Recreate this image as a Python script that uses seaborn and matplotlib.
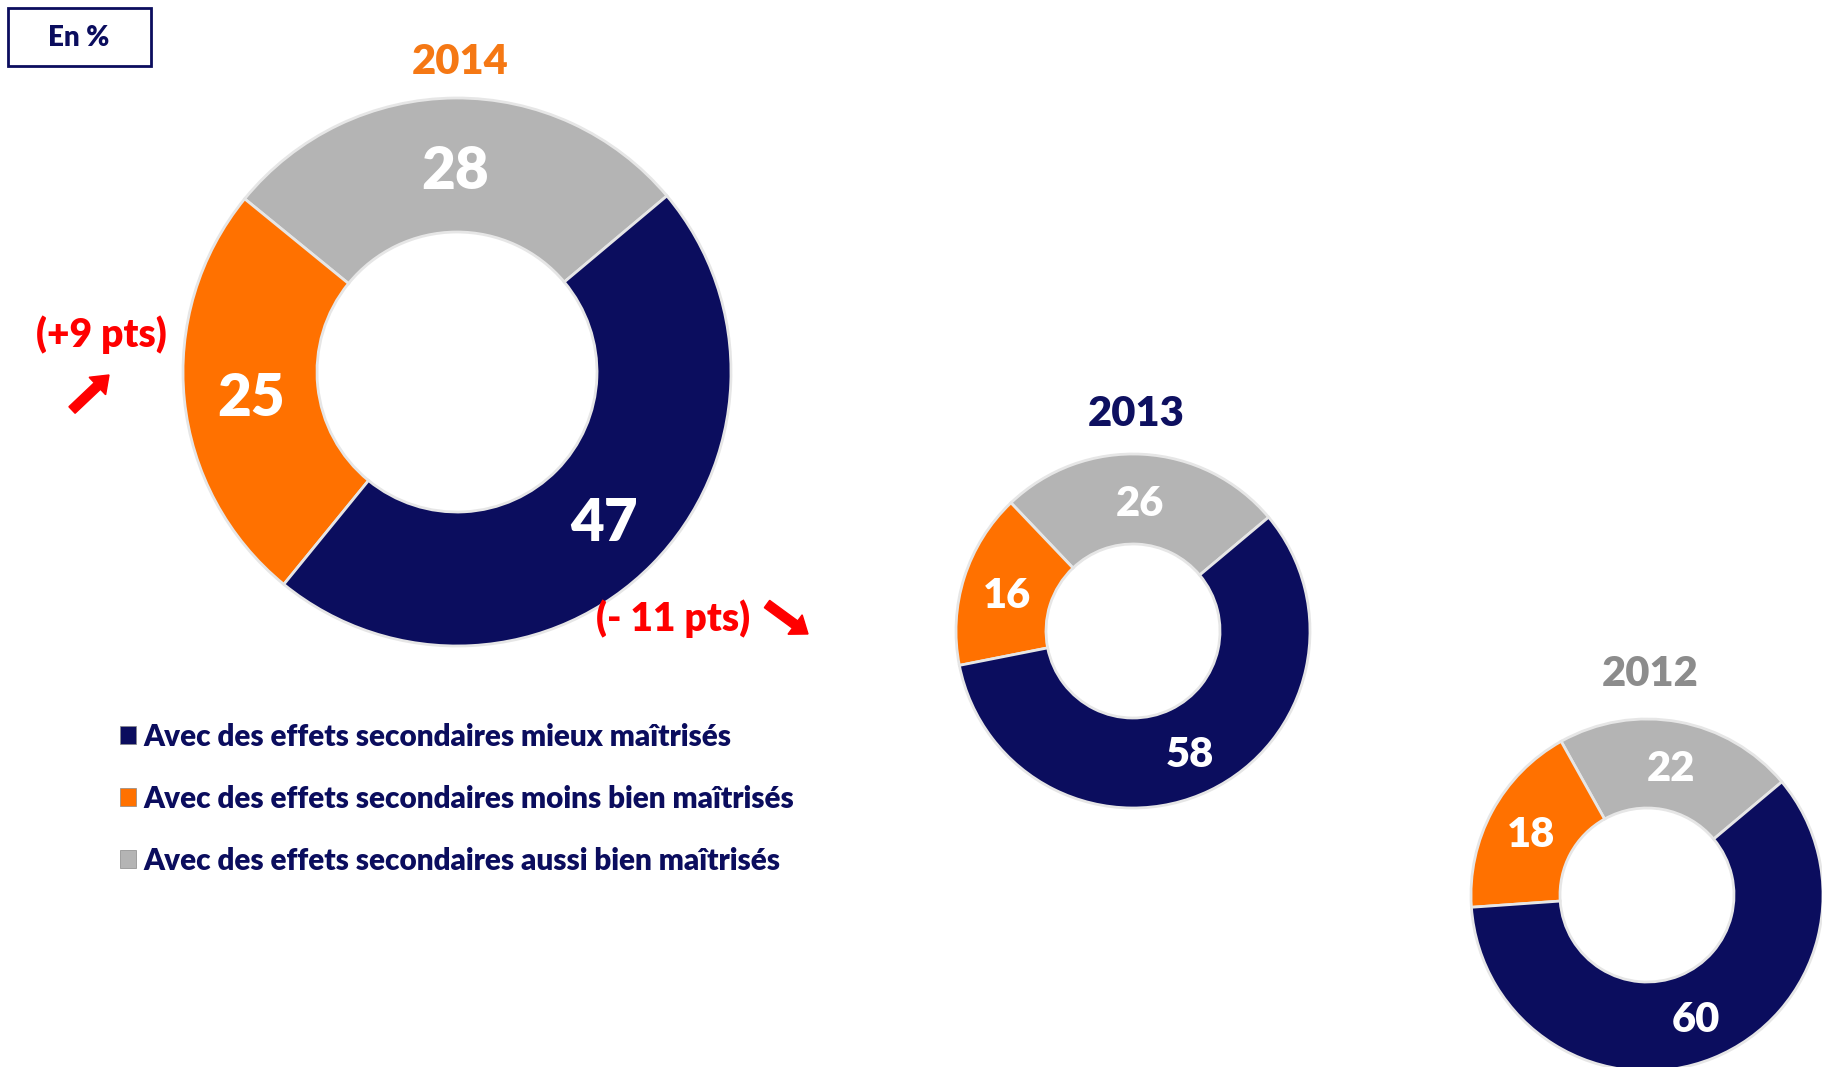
import matplotlib
matplotlib.use('Agg')
import matplotlib.pyplot as plt
import seaborn as sns

# data
years = ["2014", "2013", "2012"]
categories = ["Avec des effets secondaires mieux maîtrisés",
              "Avec des effets secondaires moins bien maîtrisés",
              "Avec des effets secondaires aussi bien maîtrisés"]
mieux = [47, 58, 60]
moins = [25, 16, 18]
aussi = [28, 26, 22]
evolutions = ["(+9 pts)", "(- 11 pts)"]

NAVY = "#0b0d5e"
ORANGE = "#ff7100"
GRAY = "#b4b4b4"
RED = "#ff0000"
colors = [NAVY, ORANGE, GRAY]
title_colors = ["#f57814", "#0e1060", "#8c8c8c"]

sns.set_theme(style="white")
plt.rcParams['font.family'] = ['Lato', 'DejaVu Sans']
WEIGHT = "heavy"

W, H = 1822, 1067
fig = plt.figure(figsize=(W / 100, H / 100), dpi=100)
ax = fig.add_axes([0, 0, 1, 1])

# layout in pixels (y measured from top of picture)
centers = [(457, 372), (1133, 631), (1647, 895)]
outer = [274, 177, 176]
inner = [140, 87, 87]
label_size = [42, 30, 30]
label_drop = [6, 5, 3]
title_y = [62, 414, 674]

for i, year in enumerate(years):
    cx, cy = centers[i]
    R, r = outer[i], inner[i]
    vals = [aussi[i], moins[i], mieux[i]]
    wedges, texts, autotexts = ax.pie(
        vals, colors=[GRAY, ORANGE, NAVY], startangle=40, counterclock=True,
        center=(cx, H - cy), radius=R,
        wedgeprops=dict(width=R - r, edgecolor="#e6e6e6", linewidth=2),
        autopct=lambda p: "%d" % round(p), pctdistance=(R + r) / 2 / R,
        textprops=dict(color="white", fontsize=label_size[i], fontweight=WEIGHT))
    for t in autotexts:
        x, y = t.get_position()
        t.set_position((x, y - label_drop[i]))
    ax.text(cx + 3, H - title_y[i], year, ha="center", va="center",
            fontsize=30, fontweight=WEIGHT, color=title_colors[i])

ax.set_xlim(0, W)
ax.set_ylim(0, H)
ax.set_aspect("equal")
ax.axis("off")

# "En %" box
ax.add_patch(plt.Rectangle((8, H - 66), 143, 58, facecolor="white",
                           edgecolor=NAVY, linewidth=2))
ax.text(79, H - 38, "En %", ha="center", va="center", fontsize=20,
        fontweight=WEIGHT, color=NAVY)

# evolution annotations
ax.text(101, H - 335, evolutions[0], ha="center", va="center", fontsize=28,
        fontweight=WEIGHT, color=RED)
ax.arrow(72, H - 410, 37, 35, width=9, head_width=24, head_length=16,
         length_includes_head=True, color=RED)
ax.text(673, H - 619, evolutions[1], ha="center", va="center", fontsize=28,
        fontweight=WEIGHT, color=RED)
ax.arrow(767, H - 604, 41, -30, width=9, head_width=24, head_length=16,
         length_includes_head=True, color=RED)

# legend
handles = [plt.Rectangle((0, 0), 1, 1, facecolor=c, edgecolor="#888888", linewidth=0.5)
           for c in colors]
leg = ax.legend(handles, categories, loc="upper left",
                bbox_to_anchor=(93 / W, 1 - 696 / H), frameon=False,
                prop=dict(family=['Lato', 'DejaVu Sans'], weight=WEIGHT, size=21.3),
                handlelength=0.55, handleheight=0.55, handletextpad=0.27,
                labelspacing=1.15)
for t in leg.get_texts():
    t.set_color(NAVY)

fig.savefig("out.png", dpi=100)
